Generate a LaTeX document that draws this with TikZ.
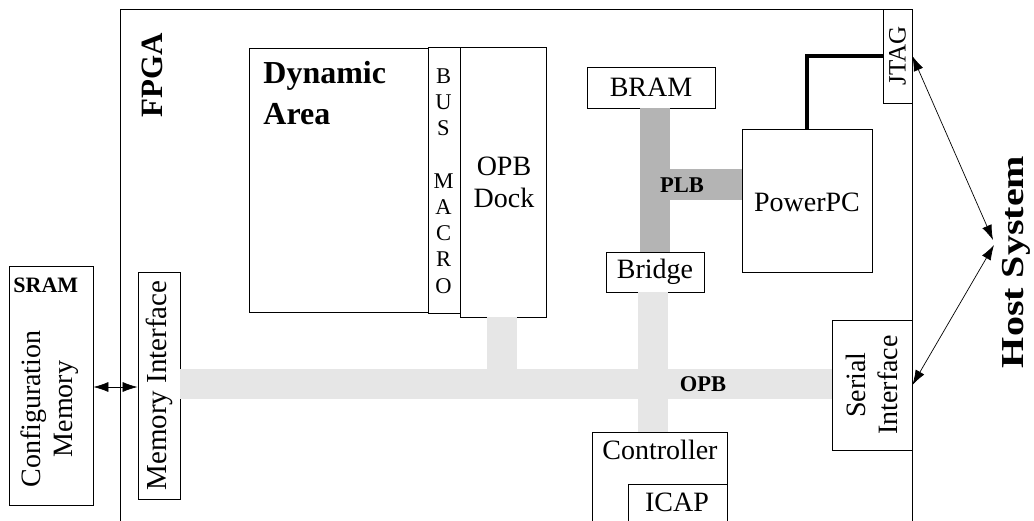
\documentclass[tikz,border=0pt]{standalone}
\usepackage{fontspec}
\setmainfont{Liberation Serif}
\usetikzlibrary{arrows.meta,calc}
\definecolor{opbgray}{RGB}{230,230,230}
\definecolor{plbgray}{RGB}{180,180,180}
\newcommand\fsz[2]{\fontsize{#1}{#2}\selectfont}
\begin{document}
\begin{tikzpicture}[x=1pt,y=-1pt, line width=0.8pt,
  bx/.style 2 args={draw, fill=white, inner sep=0pt, minimum width=#1pt, minimum height=#2pt},
  txt/.style={inner sep=0pt, font=\fsz{28}{32}},
  btxt/.style={inner sep=0pt, font=\bfseries\fsz{22.5}{26}},
  opbbus/.style={draw=opbgray, line width=30pt},
  plbbus/.style={draw=plbgray, line width=30pt},
  biarrow/.style={{Latex[length=15pt,width=10pt]}-{Latex[length=15pt,width=10pt]}, line width=0.7pt},
  thickline/.style={line width=3.5pt}]
\useasboundingbox (0,0) rectangle (1034,520);
\clip (0,0) rectangle (1034,520);

% FPGA frame
\node[bx={792}{531}, fill=none] (fpga) at (516,274.5) {};

% boxes
\node[bx={84}{239}] (sram) at (51,385.5) {};
\node[bx={42}{227}] (memif) at (159,385.5) {};
\node[bx={179}{264}] (dyn) at (338.5,180) {};
\node[bx={32}{266}] (bm) at (444,180) {};
\node[bx={86}{270}] (opbdock) at (503,182) {};
\node[bx={128}{41}] (bram) at (651,87.5) {};
\node[bx={130}{143}] (ppc) at (807,200.5) {};
\node[bx={98}{40}] (bridge) at (655,272) {};
\node[bx={29}{94}] (jtag) at (897.5,56) {};
\node[bx={80}{130}] (serial) at (872,385) {};
\node[bx={135}{108}] (ctrl) at (659.5,486) {};

% buses
\draw[opbbus] (memif.east |- 0,383.5) -- (serial.west |- 0,383.5);
\draw[opbbus] ([xshift=-1pt]opbdock.south) -- ([xshift=-1pt]opbdock.south |- 0,383.5);
\draw[opbbus] ([xshift=-2pt]bridge.south) -- ([xshift=-2pt]bridge.south |- ctrl.north);
\draw[plbbus] (bridge.north) -- (bridge.north |- bram.south);
\draw[plbbus, line width=31pt] (ppc.west |- 0,184.5) -- (bridge.north |- 0,184.5);

\node[bx={99}{56}] (icap) at (677.5,512) {};

% thick JTAG line
\draw[thickline] (ppc.north) -- (ppc.north |- jtag.west) -- (jtag.west);

% arrows
\coordinate (hA) at (993,240);
\coordinate (hB) at (994,245);
\draw[biarrow] (jtag.east) -- (hA);
\draw[biarrow] (hB) -- (serial.east);
\draw[biarrow] (sram.east |- 0,387) -- (memif.west |- 0,387);

% texts
\node[inner sep=0pt, rotate=90, font=\bfseries\fsz{31}{34}] (tfpga) at (152,75) {FPGA};
\node[inner sep=0pt, rotate=90, font=\bfseries\fsz{32}{34}] (thost) at (1016,262) {\scalebox{1.25}[1]{Host System}};
\node[inner sep=0pt, anchor=base west, font=\bfseries\fsz{22}{24}] (tsram) at (13,292) {SRAM};
\node[txt, rotate=90, align=center] (tcfg) at (50,409) {Configuration\\Memory};
\node[txt, rotate=90, font=\fsz{29}{32}] (tmem) at (memif) {Memory Interface};
\node[inner sep=0pt, anchor=base west, font=\bfseries\fsz{32}{41}] (tdyn1) at (263,83) {Dynamic};
\node[inner sep=0pt, anchor=base west, font=\bfseries\fsz{32}{41}] (tdyn2) at (263,124) {Area};
\foreach \l/\k in {B/0,U/1,S/2,M/4,A/5,C/6,R/7,O/8}
  \node[inner sep=0pt, anchor=base, font=\fsz{22.5}{26}] at (443.5,83+26.25*\k) {\l};
\node[txt, anchor=base] (topb) at (504,175) {OPB};
\node[txt, anchor=base] (tdock) at (504,207) {Dock};
\node[txt] (tbram) at (bram) {BRAM};
\node[txt] (tppc) at (807,202) {PowerPC};
\node[txt] (tbridge) at (bridge) {Bridge};
\node[txt, rotate=90, font=\fsz{25}{28}] (tjtag) at (jtag) {JTAG};
\node[txt, rotate=90, align=center] (tser) at (serial) {Serial\\Interface};
\node[txt] (tctrl) at (660,450) {Controller};
\node[txt] (ticap) at (677,502) {ICAP};
\node[btxt] (tplb) at (682,185) {PLB};
\node[btxt] (topbl) at (703,384) {OPB};
\end{tikzpicture}
\end{document}
